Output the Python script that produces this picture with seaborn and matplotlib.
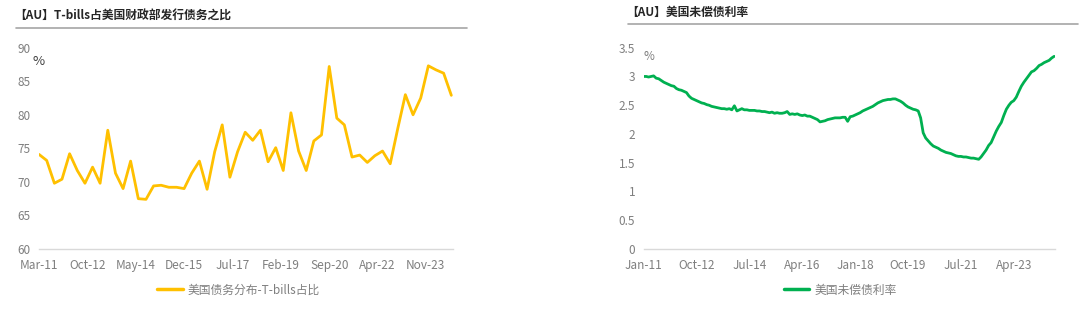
import numpy as np
import pandas as pd
import matplotlib
matplotlib.use("Agg")
import matplotlib.pyplot as plt
from matplotlib.lines import Line2D
import seaborn as sns

# ---------------- data ----------------
tbill_title = "【AU】T-bills占美国财政部发行债务之比"
tbill_label = "美国债务分布-T-bills占比"
tbill_start = "2011-03-01"
tbill_share = [74.1, 73.2, 69.8, 70.4, 74.2, 71.7, 69.8, 72.2, 69.8, 77.7,
               71.3, 69.0, 73.1, 67.5, 67.4, 69.4, 69.5, 69.2, 69.2, 69.0,
               71.3, 73.1, 68.9, 74.5, 78.5, 70.7, 74.5, 77.4, 76.2, 77.7,
               73.0, 75.1, 71.7, 80.3, 74.6, 71.7, 76.1, 77.0, 87.2, 79.5,
               78.5, 73.7, 74.0, 72.9, 73.9, 74.6, 72.7, 78.0, 83.0, 80.0,
               82.5, 87.3, 86.7, 86.2, 82.9]
tbill_xticks = ["Mar-11", "Oct-12", "May-14", "Dec-15", "Jul-17", "Feb-19",
                "Sep-20", "Apr-22", "Nov-23"]
tbill_yticks = [60, 65, 70, 75, 80, 85, 90]

rate_title = "【AU】美国未偿债利率"
rate_label = "美国未偿债利率"
rate_start = "2011-01-01"
rate_values = [
    3.00, 3.00, 2.99, 3.00, 3.01, 2.97, 2.96, 2.93, 2.90, 2.88, 2.86, 2.84,
    2.83, 2.79, 2.77, 2.76, 2.74, 2.72, 2.66, 2.62, 2.60, 2.58, 2.56, 2.54,
    2.53, 2.51, 2.50, 2.48, 2.47, 2.46, 2.45, 2.44, 2.44, 2.43, 2.44, 2.42,
    2.49, 2.40, 2.42, 2.44, 2.42, 2.42, 2.41, 2.41, 2.41, 2.40, 2.40, 2.39,
    2.39, 2.38, 2.37, 2.38, 2.36, 2.37, 2.36, 2.36, 2.37, 2.39, 2.34, 2.35,
    2.34, 2.35, 2.33, 2.32, 2.33, 2.31, 2.31, 2.29, 2.27, 2.25, 2.21, 2.22,
    2.23, 2.25, 2.26, 2.27, 2.28, 2.28, 2.28, 2.29, 2.29, 2.22, 2.30, 2.31,
    2.33, 2.35, 2.37, 2.40, 2.42, 2.44, 2.46, 2.48, 2.51, 2.54, 2.56, 2.58,
    2.59, 2.60, 2.60, 2.61, 2.61, 2.59, 2.57, 2.54, 2.50, 2.47, 2.45, 2.43,
    2.42, 2.40, 2.28, 2.02, 1.93, 1.88, 1.83, 1.79, 1.77, 1.75, 1.72, 1.70,
    1.68, 1.67, 1.66, 1.64, 1.62, 1.61, 1.61, 1.60, 1.60, 1.59, 1.58, 1.58,
    1.57, 1.56, 1.60, 1.66, 1.72, 1.80, 1.85, 1.95, 2.05, 2.13, 2.20, 2.32,
    2.43, 2.50, 2.55, 2.58, 2.64, 2.74, 2.83, 2.90, 2.96, 3.02, 3.08, 3.10,
    3.14, 3.19, 3.21, 3.24, 3.26, 3.28, 3.32, 3.35]
rate_xticks = ["Jan-11", "Oct-12", "Jul-14", "Apr-16", "Jan-18", "Oct-19",
               "Jul-21", "Apr-23"]
rate_yticks = [0, 0.5, 1, 1.5, 2, 2.5, 3, 3.5]
rate_yticklabels = ["0", "0.5", "1", "1.5", "2", "2.5", "3", "3.5"]

# ---------------- style ----------------
sns.set_theme(style="white")
plt.rcParams["font.family"] = ["Noto Sans CJK SC", "DejaVu Sans"]

W, H = 1080, 309
fig = plt.figure(figsize=(W / 100, H / 100), dpi=100)

GOLD = "#FFC000"
GREEN = "#00B050"
TICK_C = "#7F7F7F"
AX_C = "#D9D9D9"


def px_axes(x0, x1, ytop, ybot):
    return fig.add_axes([x0 / W, (H - ybot) / H, (x1 - x0) / W, (ybot - ytop) / H])


def style_axes(ax):
    for s in ["top", "right", "left"]:
        ax.spines[s].set_visible(False)
    ax.spines["bottom"].set_color(AX_C)
    ax.spines["bottom"].set_linewidth(1.0)
    ax.tick_params(axis="x", direction="out", length=4, width=1, color=AX_C,
                   labelcolor=TICK_C, labelsize=8.5, pad=3)
    ax.tick_params(axis="y", length=0, labelcolor=TICK_C, labelsize=8.5, pad=6)
    ax.grid(False)
    ax.set_xlabel("")
    ax.set_ylabel("")


# ---- left chart ----
df1 = pd.DataFrame({
    "date": pd.date_range(tbill_start, periods=len(tbill_share), freq="3MS"),
    "value": tbill_share,
})
ax1 = px_axes(39, 453, 47.7, 249)
sns.lineplot(data=df1, x="date", y="value", ax=ax1, color=GOLD, linewidth=2.0,
             legend=False)
ax1.set_ylim(60, 90)
ax1.set_yticks(tbill_yticks)
ax1.set_yticklabels([str(v) for v in tbill_yticks])
t1 = pd.to_datetime(tbill_xticks, format="%b-%y")
ax1.set_xticks(t1)
ax1.set_xticklabels(tbill_xticks)
ax1.set_xlim(df1["date"].iloc[0], df1["date"].iloc[-1] + pd.Timedelta(days=20))
style_axes(ax1)
ax1.text(-0.5 / 414 * 0 + 0.0, 0.93, "%", transform=ax1.transAxes, fontsize=9.5,
         color="#404040", ha="center", va="center")

# ---- right chart ----
df2 = pd.DataFrame({
    "date": pd.date_range(rate_start, periods=len(rate_values), freq="MS"),
    "value": rate_values,
})
ax2 = px_axes(643.7, 1055, 47.7, 249)
sns.lineplot(data=df2, x="date", y="value", ax=ax2, color=GREEN, linewidth=2.0,
             legend=False)
ax2.set_ylim(0, 3.5)
ax2.set_yticks(rate_yticks)
ax2.set_yticklabels(rate_yticklabels)
t2 = pd.to_datetime(rate_xticks, format="%b-%y")
ax2.set_xticks(t2)
ax2.set_xticklabels(rate_xticks)
ax2.set_xlim(df2["date"].iloc[0], df2["date"].iloc[-1] + pd.Timedelta(days=10))
style_axes(ax2)
ax2.text(0.012, 0.955, "%", transform=ax2.transAxes, fontsize=8.5,
         color=TICK_C, ha="center", va="center")

# ---- titles and separators ----
fig.text(14 / W, 1 - 15.5 / H, tbill_title, fontsize=8.5, fontweight="bold",
         color="#262626", ha="left", va="center")
fig.add_artist(Line2D([16 / W, 467 / W], [1 - 28 / H, 1 - 28 / H],
                      color="#A6A6A6", linewidth=1.2))
fig.text(626 / W, 1 - 12.5 / H, rate_title, fontsize=8.5, fontweight="bold",
         color="#262626", ha="left", va="center")
fig.add_artist(Line2D([628 / W, 1078 / W], [1 - 24 / H, 1 - 24 / H],
                      color="#A6A6A6", linewidth=1.2))

# ---- legends ----
h1 = Line2D([], [], color=GOLD, linewidth=2.5)
fig.legend([h1], [tbill_label], loc="center", bbox_to_anchor=(238 / W, 1 - 290 / H),
           frameon=False, fontsize=8.5, handlelength=2.2, handletextpad=0.4,
           labelcolor=TICK_C)
h2 = Line2D([], [], color=GREEN, linewidth=2.5)
fig.legend([h2], [rate_label], loc="center", bbox_to_anchor=(840 / W, 1 - 290 / H),
           frameon=False, fontsize=8.5, handlelength=2.2, handletextpad=0.4,
           labelcolor=TICK_C)

fig.savefig("out.png", dpi=100, facecolor="white")
